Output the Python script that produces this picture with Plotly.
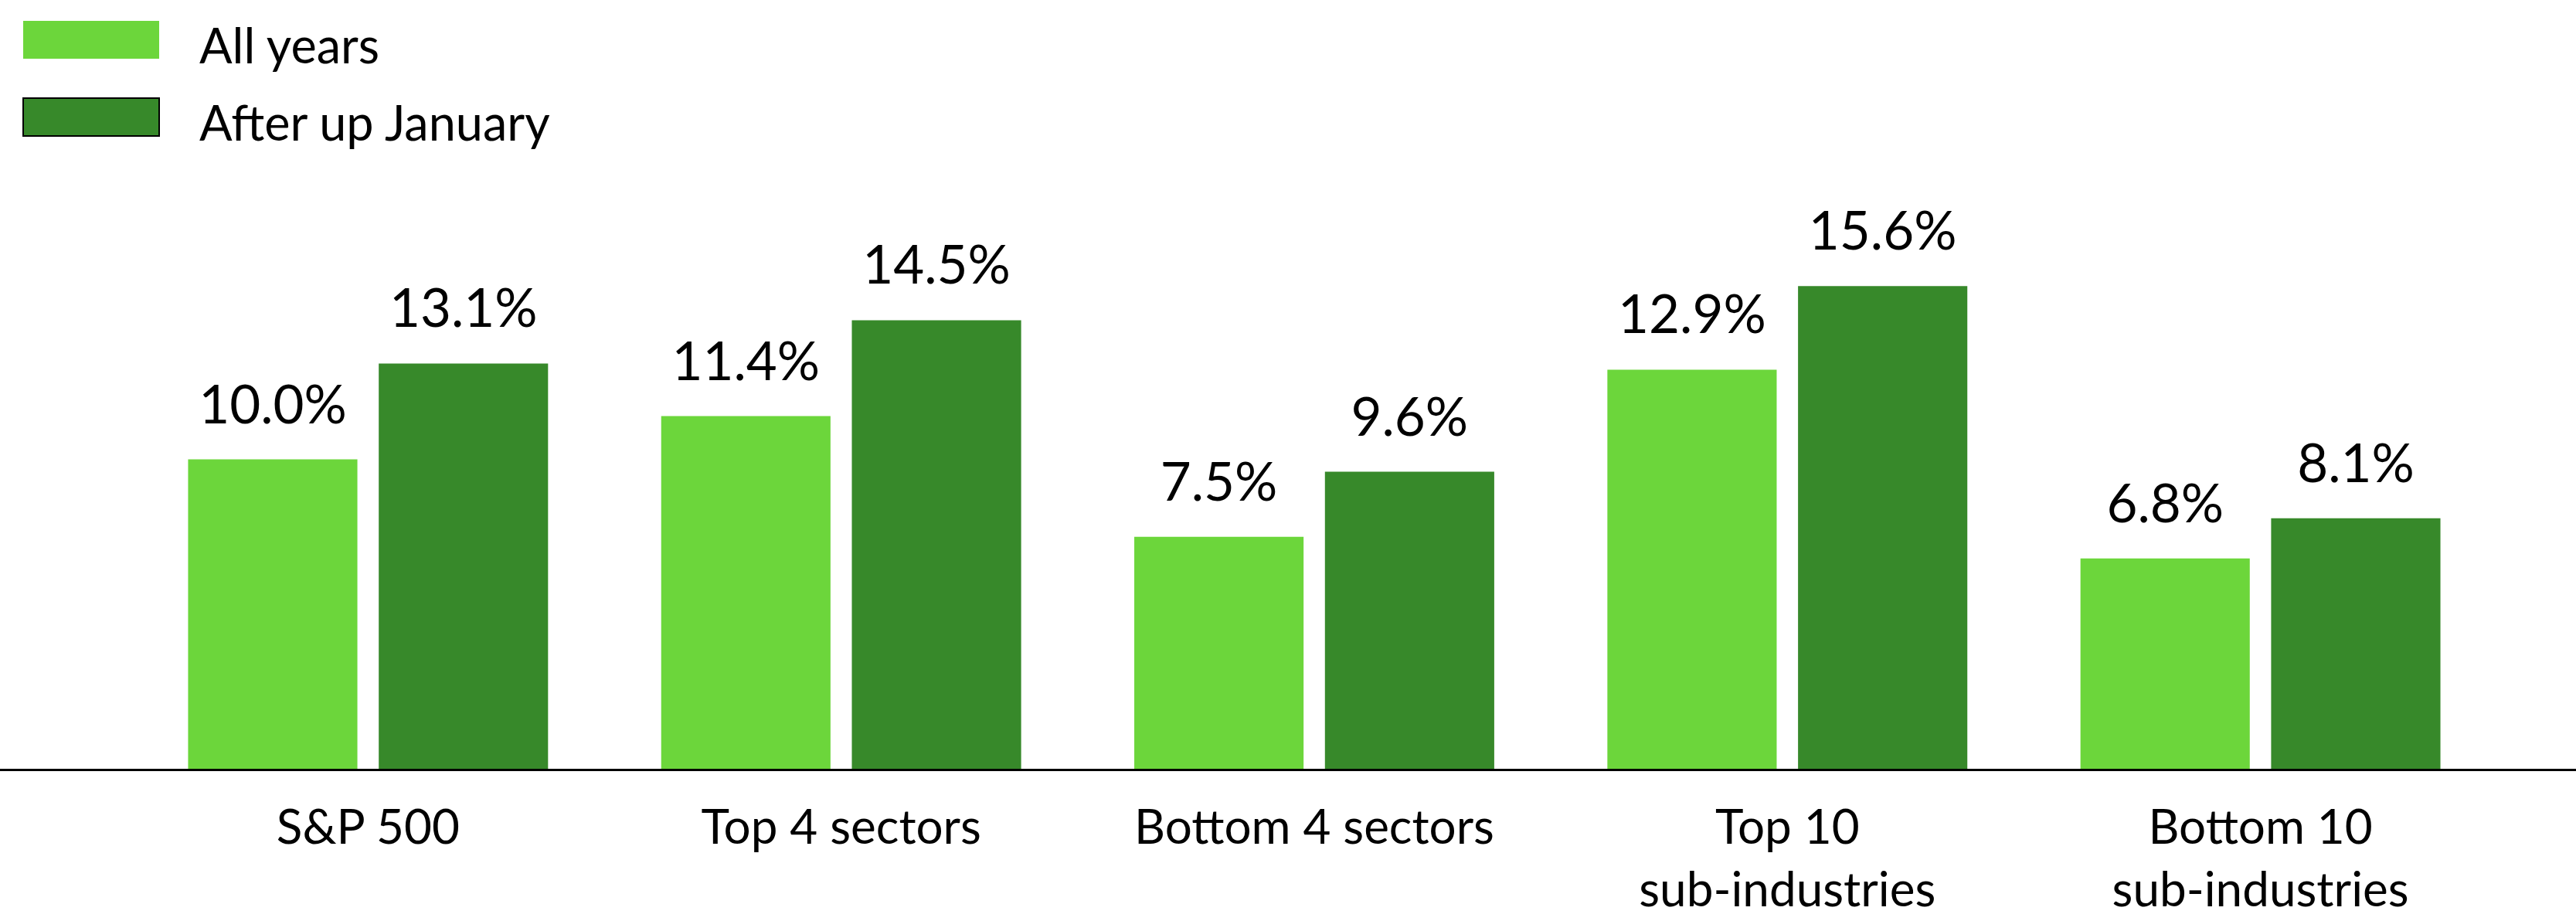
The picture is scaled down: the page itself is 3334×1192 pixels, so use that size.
import plotly.graph_objects as go

categories = ["S&P 500", "Top 4 sectors", "Bottom 4 sectors", "Top 10<br>sub-industries", "Bottom 10<br>sub-industries"]
all_years = [10.0, 11.4, 7.5, 12.9, 6.8]
after_up_january = [13.1, 14.5, 9.6, 15.6, 8.1]
series_names = ["All years", "After up January"]
label_all = [f"{v:.1f}%" for v in all_years]
label_after = [f"{v:.1f}%" for v in after_up_january]

LIGHT = "#6cd63b"
DARK = "#37892a"
FONT = "Lato"
GAP = 0.194

fig = go.Figure()
fig.add_trace(go.Bar(x=categories, y=all_years, name=series_names[0], marker_color=LIGHT,
                     marker_line_width=0, offsetgroup="a", alignmentgroup="g", showlegend=False,
                     hoverinfo="skip"))
fig.add_trace(go.Bar(x=categories, y=after_up_january, name=series_names[1], marker_color=DARK,
                     marker_line_width=0, offsetgroup="b", alignmentgroup="g", showlegend=False,
                     hoverinfo="skip"))
# value labels
for vals, labels, grp in [(all_years, label_all, "a"), (after_up_january, label_after, "b")]:
    fig.add_trace(go.Scatter(x=categories, y=vals, mode="markers+text", text=labels,
                             textposition="top center", offsetgroup=grp, alignmentgroup="g",
                             marker=dict(size=46, color="rgba(0,0,0,0)"),
                             textfont=dict(family=FONT, size=69, color="black"),
                             showlegend=False, hoverinfo="skip"))

W, H = 3334, 1192
B = 197
plot_h = H - B

fig.update_layout(
    width=W, height=H,
    margin=dict(l=0, r=0, t=0, b=B, pad=0),
    paper_bgcolor="white", plot_bgcolor="white",
    barmode="group", bargap=GAP, bargroupgap=0.112,
    scattermode="group", scattergap=GAP,
    showlegend=False,
    font=dict(family=FONT, color="black"),
    xaxis=dict(type="category", range=[-0.778, 4.667], showline=True, linecolor="black",
               linewidth=3, ticks="", showgrid=False, zeroline=False,
               tickfont=dict(family=FONT, size=62, color="black"), ticklabelstandoff=20),
    yaxis=dict(range=[0, 24.85], visible=False, showgrid=False, zeroline=False),
)

# custom legend (large swatches)
legend_items = [(series_names[0], LIGHT, None), (series_names[1], DARK, "black")]
sw_x0, sw_x1 = 30 / W, 206 / W
rows = [(27, 76), (127, 176)]
for (name, color, border), (t, b) in zip(legend_items, rows):
    fig.add_shape(type="rect", xref="paper", yref="paper",
                  x0=sw_x0, x1=sw_x1, y0=1 - b / plot_h, y1=1 - t / plot_h,
                  fillcolor=color,
                  line=dict(color=border if border else color, width=2 if border else 0))
    fig.add_annotation(xref="paper", yref="paper", x=256 / W, y=1 - ((t + b) / 2 + 6) / plot_h,
                       text=name, showarrow=False, xanchor="left", yanchor="middle",
                       font=dict(family=FONT, size=63, color="black"))

fig.write_html("out.html", config={"displayModeBar": False},
               post_script="document.body.style.margin='0';document.body.style.overflow='hidden';")
